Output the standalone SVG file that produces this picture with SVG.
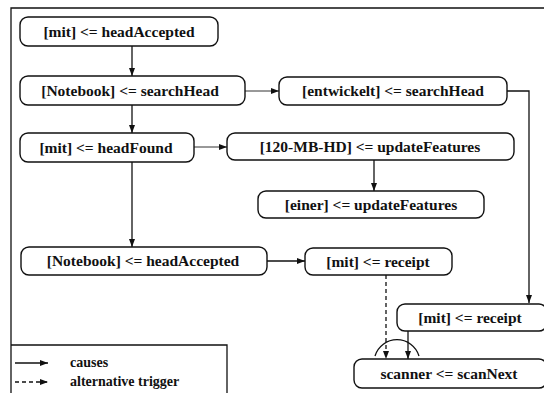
<svg xmlns="http://www.w3.org/2000/svg" width="544" height="393" viewBox="0 0 544 393">
<defs>
<style>
.n rect{fill:#fff;stroke:#111;stroke-width:1.4}
.n text{font-family:"Liberation Serif","Times New Roman",serif;font-size:15.5px;fill:#111;text-anchor:middle;font-weight:bold}
.c{fill:none;stroke:#111;stroke-width:1.3}
.t{fill:none;stroke:#333;stroke-width:1}
.d{fill:none;stroke:#111;stroke-width:1.3;stroke-dasharray:4 3}
.lg{font-family:"Liberation Serif","Times New Roman",serif;font-size:14px;fill:#111;font-weight:bold}
</style>
<marker id="a" viewBox="0 0 8 6" refX="8" refY="3" markerWidth="8" markerHeight="6" markerUnits="userSpaceOnUse" orient="auto">
<path d="M0,0 L8,3 L0,6 Z" fill="#111"/>
</marker>
</defs>
<rect x="0" y="0" width="544" height="393" fill="#fff"/>
<g id="frame" fill="none" stroke="#111" stroke-width="1.3">
<path d="M11,393 V8 H544"/>
<path d="M11,345 H227 V393"/>
</g>
<g id="connectors">
<path class="c" d="M132,46 V76" marker-end="url(#a)"/>
<path class="c" d="M132,105 V133" marker-end="url(#a)"/>
<path class="c" d="M132,162 V247" marker-end="url(#a)"/>
<path class="t" d="M245,91 H279" marker-end="url(#a)"/>
<path class="t" d="M194,147 H227" marker-end="url(#a)"/>
<path class="c" d="M374,160 V191" marker-end="url(#a)"/>
<path class="c" d="M507,91 H529 V303" marker-end="url(#a)"/>
<path class="c" d="M267,261 H305" marker-end="url(#a)"/>
<path class="d" d="M386,275 V359" marker-end="url(#a)"/>
<path class="c" d="M408,331 V359" marker-end="url(#a)"/>
<path class="c" d="M375,356 A23,23 0 0 1 419,356"/>
</g>
<g id="n1" class="n"><rect x="20" y="17" width="198" height="29" rx="8"/><text x="119" y="37">[mit] &lt;= headAccepted</text></g>
<g id="n2" class="n"><rect x="20" y="76" width="225" height="29" rx="8"/><text x="130" y="96">[Notebook] &lt;= searchHead</text></g>
<g id="n3" class="n"><rect x="279" y="77" width="228" height="28" rx="8"/><text x="393" y="96">[entwickelt] &lt;= searchHead</text></g>
<g id="n4" class="n"><rect x="20" y="133" width="174" height="29" rx="8"/><text x="106" y="153">[mit] &lt;= headFound</text></g>
<g id="n5" class="n"><rect x="227" y="133" width="287" height="27" rx="8"/><text x="370" y="152">[120-MB-HD] &lt;= updateFeatures</text></g>
<g id="n6" class="n"><rect x="258" y="191" width="226" height="27" rx="8"/><text x="371" y="210">[einer] &lt;= updateFeatures</text></g>
<g id="n7" class="n"><rect x="21" y="247" width="246" height="28" rx="8"/><text x="143" y="266">[Notebook] &lt;= headAccepted</text></g>
<g id="n8" class="n"><rect x="305" y="248" width="147" height="27" rx="8"/><text x="378" y="267">[mit] &lt;= receipt</text></g>
<g id="n9" class="n"><rect x="397" y="304" width="150" height="27" rx="8"/><text x="470" y="323">[mit] &lt;= receipt</text></g>
<g id="n10" class="n"><rect x="354" y="359" width="193" height="29" rx="8"/><text x="449" y="379">scanner &lt;= scanNext</text></g>
<g id="legend">
<path class="c" d="M15,363 H48" marker-end="url(#a)"/>
<text class="lg" x="70" y="367">causes</text>
<path class="d" d="M15,382 H48" marker-end="url(#a)"/>
<text class="lg" x="70" y="386">alternative trigger</text>
</g>
</svg>
